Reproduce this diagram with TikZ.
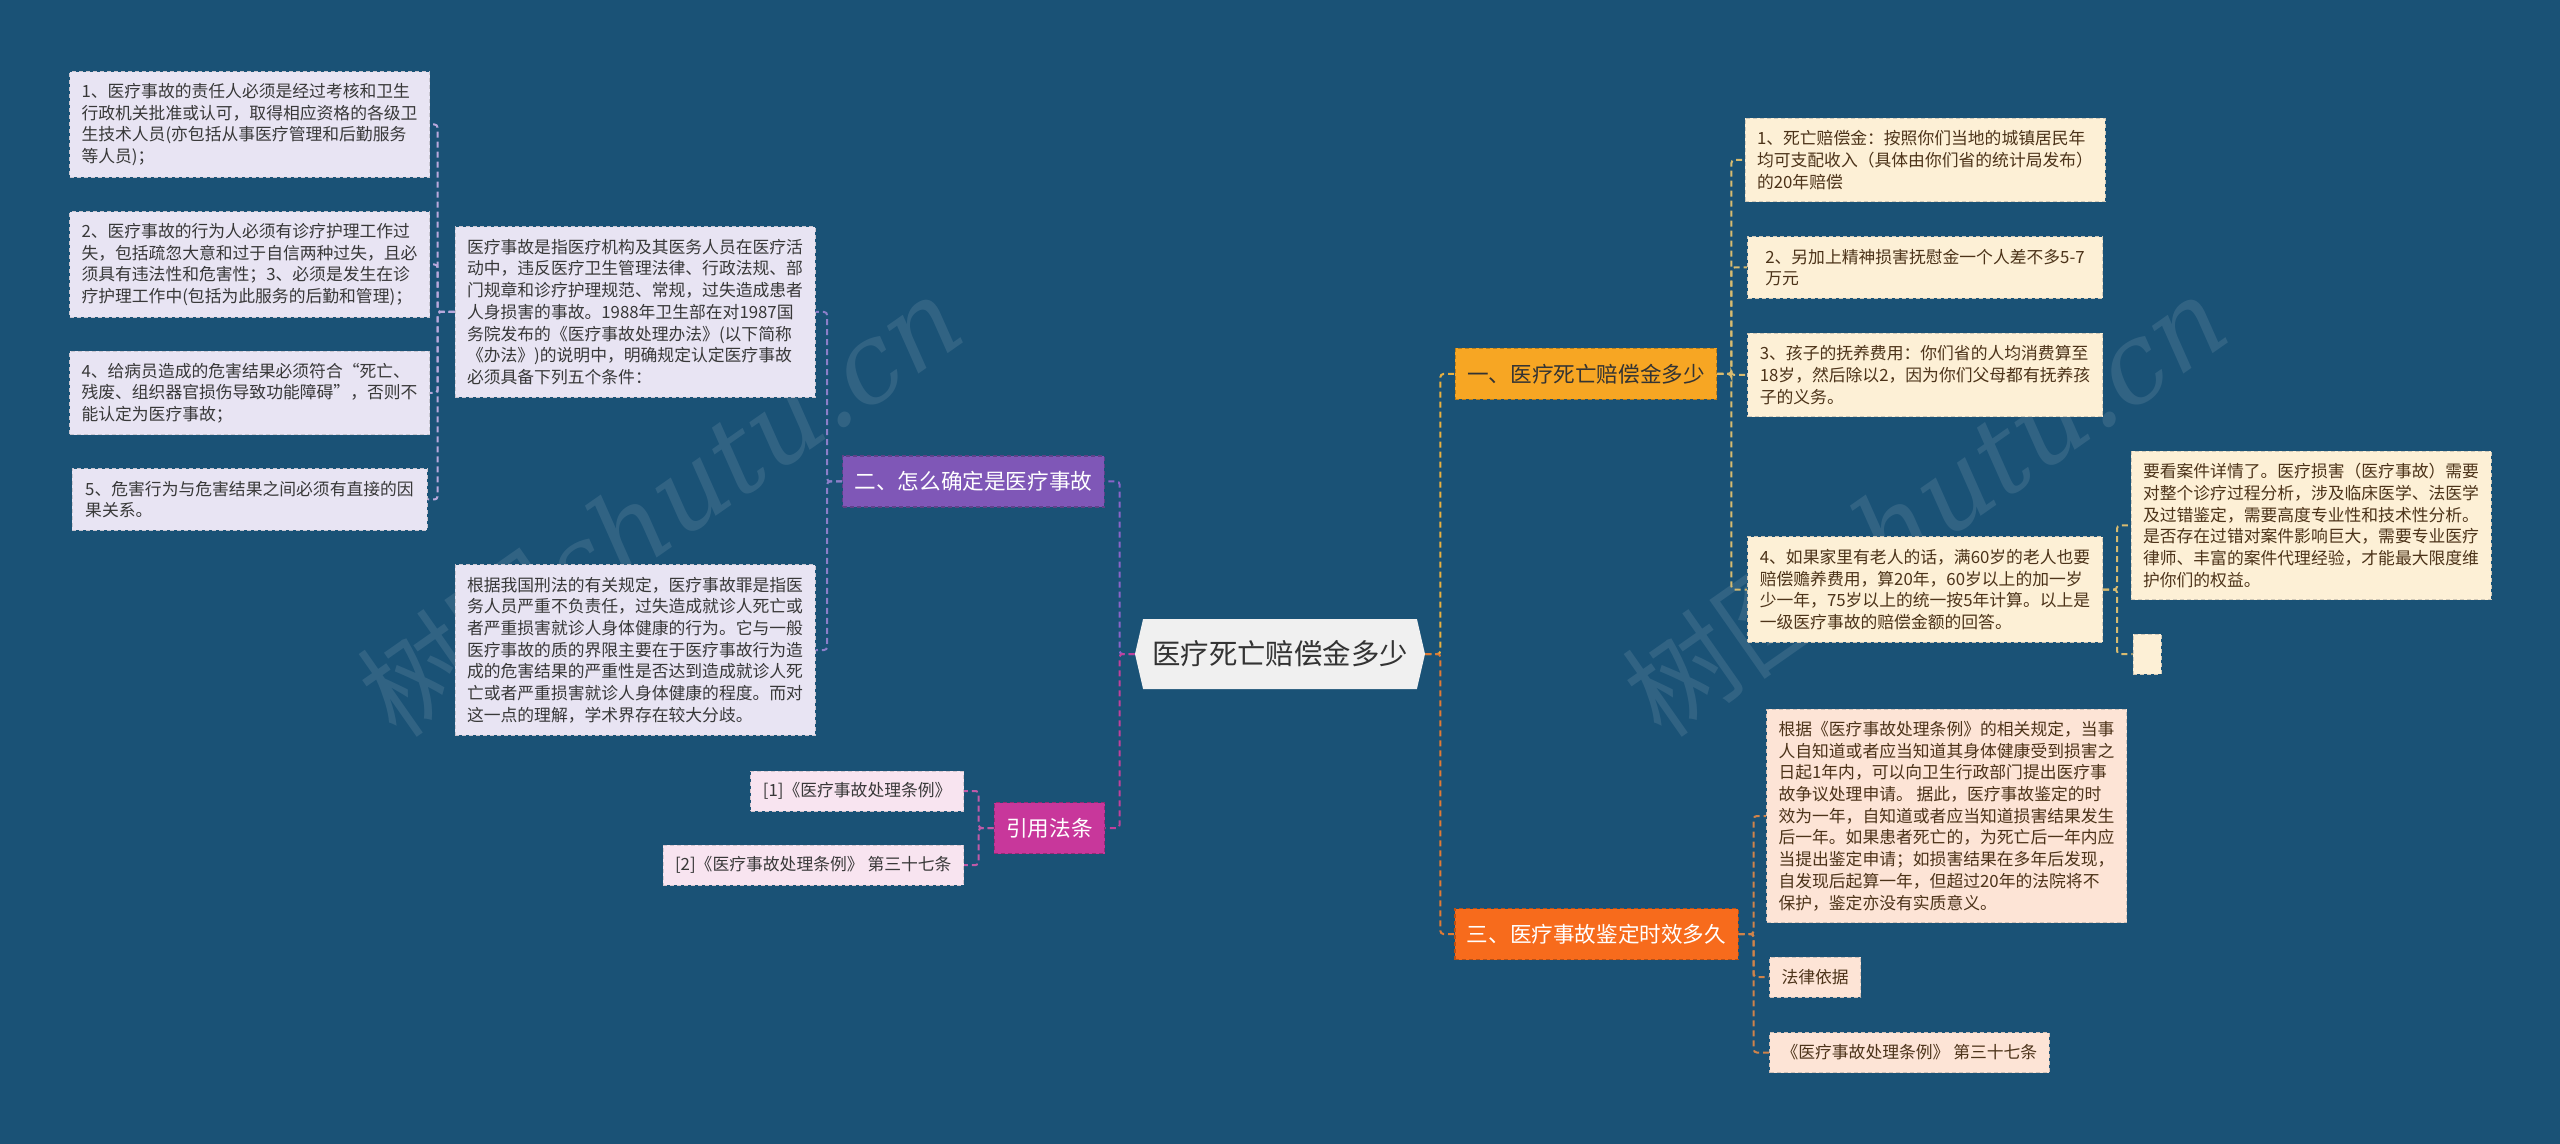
\documentclass[tikz,border=0pt]{standalone}
\usepackage{fontspec}
\setmainfont{Noto Sans CJK SC}
\newfontfamily\wmfont{DejaVu Serif}
\usetikzlibrary{shapes.symbols}

\definecolor{bgblue}{HTML}{1A5276}
\definecolor{rootfill}{HTML}{F0F0F0}
\definecolor{purplefill}{HTML}{7F57B7}
\definecolor{magentafill}{HTML}{C8379B}
\definecolor{orangefill}{HTML}{F7A623}
\definecolor{redfill}{HTML}{F76B1C}
\definecolor{lavfill}{HTML}{E8E4F3}
\definecolor{pinkfill}{HTML}{F8E4F0}
\definecolor{creamfill}{HTML}{FDF0D6}
\definecolor{peachfill}{HTML}{FDE4D6}
\definecolor{lnpurple}{HTML}{8A63C8}
\definecolor{lnmagenta}{HTML}{C0409C}
\definecolor{lnviolet}{HTML}{8C7FC9}
\definecolor{lnlav}{HTML}{B9A9DC}
\definecolor{lnpink}{HTML}{C05AA8}
\definecolor{lnyellow}{HTML}{E8B040}
\definecolor{lnorange}{HTML}{E07A35}
\definecolor{lntan}{HTML}{D8BB70}
\definecolor{lnrust}{HTML}{D0834A}

\tikzset{
  leaf/.style={rectangle, draw, dash pattern=on 2pt off 1.5pt, line width=0.5pt,
    inner xsep=6pt, inner ysep=0pt, align=left,
    font=\fontsize{8.4}{10.85}\selectfont},
  wide/.style={minimum width=177.5pt},
  nrows/.style={minimum height={(#1-1)*10.85pt+20pt}},
  lavbox/.style={leaf, fill=lavfill, draw=lavfill!70!gray, text=black!78},
  pinkbox/.style={leaf, fill=pinkfill, draw=pinkfill!70!gray, text=black!78},
  creambox/.style={leaf, fill=creamfill, draw=creamfill!65!gray, text=brown!40!black},
  peachbox/.style={leaf, fill=peachfill, draw=peachfill!65!gray, text=brown!40!black},
  branch/.style={rectangle, dash pattern=on 2pt off 1.5pt, line width=0.6pt,
    inner xsep=6pt, minimum height=25.5pt, font=\fontsize{10.8}{13}\selectfont},
  link/.style={dash pattern=on 3pt off 2pt, line width=1pt, rounded corners=1.5pt}
}

\begin{document}
\begin{tikzpicture}[x=0.5pt,y=-0.5pt]
\useasboundingbox (0,0) rectangle (2560,1144);
\fill[bgblue] (0,0) rectangle (2560,1144);

\node[rotate=35, opacity=0.1, text=white, font=\fontsize{55}{55}\selectfont] (wm1) at (660,505) {树图{\wmfont\itshape shutu.cn}};
\node[rotate=35, opacity=0.1, text=white, font=\fontsize{55}{55}\selectfont] (wm2) at (1925,505) {树图{\wmfont\itshape shutu.cn}};

\node[signal, signal to=west and east, signal pointer angle=154, fill=rootfill,
  minimum width=145pt, minimum height=35pt, text=black!80,
  font=\fontsize{14.2}{16}\selectfont] (root) at (1280,654) {医疗死亡赔偿金多少};

\node[branch, fill=purplefill, draw=purplefill!75!black, text=white] (b2) at (973.5,481.5) {二、怎么确定是医疗事故};
\node[branch, fill=magentafill, draw=magentafill!75!black, text=white] (b4) at (1049.5,828) {引用法条};
\node[branch, fill=orangefill, draw=orangefill!75!black, text=black!80] (b1) at (1586,374) {一、医疗死亡赔偿金多少};
\node[branch, fill=redfill, draw=redfill!75!black, text=white] (b3) at (1596.5,934) {三、医疗事故鉴定时效多久};

\node[lavbox, wide, nrows=7] (defn) at (635,312) {医疗事故是指医疗机构及其医务人员在医疗活\\动中，违反医疗卫生管理法律、行政法规、部\\门规章和诊疗护理规范、常规，过失造成患者\\人身损害的事故。1988年卫生部在对1987国\\务院发布的《医疗事故处理办法》(以下简称\\《办法》)的说明中，明确规定认定医疗事故\\必须具备下列五个条件：};
\node[lavbox, wide, nrows=7] (crim) at (635,650) {根据我国刑法的有关规定，医疗事故罪是指医\\务人员严重不负责任，过失造成就诊人死亡或\\者严重损害就诊人身体健康的行为。它与一般\\医疗事故的质的界限主要在于医疗事故行为造\\成的危害结果的严重性是否达到造成就诊人死\\亡或者严重损害就诊人身体健康的程度。而对\\这一点的理解，学术界存在较大分歧。};

\node[lavbox, wide, nrows=4] (k1) at (249.5,124.5) {1、医疗事故的责任人必须是经过考核和卫生\\行政机关批准或认可，取得相应资格的各级卫\\生技术人员(亦包括从事医疗管理和后勤服务\\等人员)；};
\node[lavbox, wide, nrows=4] (k2) at (249.5,264.5) {2、医疗事故的行为人必须有诊疗护理工作过\\失，包括疏忽大意和过于自信两种过失，且必\\须具有违法性和危害性；3、必须是发生在诊\\疗护理工作中(包括为此服务的后勤和管理)；};
\node[lavbox, wide, nrows=3] (k3) at (249.5,393) {4、给病员造成的危害结果必须符合“死亡、\\残废、组织器官损伤导致功能障碍”，否则不\\能认定为医疗事故；};
\node[lavbox, wide, nrows=2] (k4) at (249.5,499.5) {5、危害行为与危害结果之间必须有直接的因\\果关系。};

\node[pinkbox, nrows=1, anchor=east] (ref1) at (964,791) {[1]《医疗事故处理条例》};
\node[pinkbox, nrows=1, anchor=east] (ref2) at (964,865) {[2]《医疗事故处理条例》 第三十七条};

\node[creambox, wide, nrows=3] (pay1) at (1925,160) {1、死亡赔偿金：按照你们当地的城镇居民年\\均可支配收入（具体由你们省的统计局发布）\\的20年赔偿};
\node[creambox, wide, nrows=2] (pay2) at (1925,267.5) {2、另加上精神损害抚慰金一个人差不多5-7\\万元};
\node[creambox, wide, nrows=3] (pay3) at (1925,375) {3、孩子的抚养费用：你们省的人均消费算至\\18岁，然后除以2，因为你们父母都有抚养孩\\子的义务。};
\node[creambox, wide, nrows=4] (pay4) at (1925,589.5) {4、如果家里有老人的话，满60岁的老人也要\\赔偿赡养费用，算20年，60岁以上的加一岁\\少一年，75岁以上的统一按5年计算。以上是\\一级医疗事故的赔偿金额的回答。};
\node[creambox, wide, nrows=6] (pay4a) at (2311,525.5) {要看案件详情了。医疗损害（医疗事故）需要\\对整个诊疗过程分析，涉及临床医学、法医学\\及过错鉴定，需要高度专业性和技术性分析。\\是否存在过错对案件影响巨大，需要专业医疗\\律师、丰富的案件代理经验，才能最大限度维\\护你们的权益。};
\node[creambox, nrows=1, minimum width=14pt] (pay4b) at (2147,654) {};

\node[peachbox, wide, nrows=9] (lim1) at (1946.5,816) {根据《医疗事故处理条例》的相关规定，当事\\人自知道或者应当知道其身体健康受到损害之\\日起1年内，可以向卫生行政部门提出医疗事\\故争议处理申请。 据此，医疗事故鉴定的时\\效为一年，自知道或者应当知道损害结果发生\\后一年。如果患者死亡的，为死亡后一年内应\\当提出鉴定申请；如损害结果在多年后发现，\\自发现后起算一年，但超过20年的法院将不\\保护，鉴定亦没有实质意义。};
\node[peachbox, nrows=1, anchor=west] (lim2) at (1769,977) {法律依据};
\node[peachbox, nrows=1, anchor=west] (lim3) at (1769,1052.5) {《医疗事故处理条例》 第三十七条};

\draw[link, lnpurple] (root.west) -- ++(-15,0) |- (b2.east);
\draw[link, lnmagenta] (root.west) -- ++(-15,0) |- (b4.east);
\foreach \n in {defn,crim}
  \draw[link, lnviolet] (b2.west) -- ++(-15,0) |- (\n.east);
\foreach \n in {k1,k2,k3,k4}
  \draw[link, lnlav] (defn.west) -- ++(-17,0) |- (\n.east);
\foreach \n in {ref1,ref2}
  \draw[link, lnpink] (b4.west) -- ++(-15,0) |- (\n.east);

\draw[link, lnyellow] (root.east) -- ++(15,0) |- (b1.west);
\draw[link, lnorange] (root.east) -- ++(15,0) |- (b3.west);
\foreach \n in {pay1,pay2,pay3,pay4}
  \draw[link, lntan] (b1.east) -- ++(14,0) |- (\n.west);
\foreach \n in {pay4a,pay4b}
  \draw[link, lntan] (pay4.east) -- ++(14,0) |- (\n.west);
\foreach \n in {lim1,lim2,lim3}
  \draw[link, lnrust] (b3.east) -- ++(15,0) |- (\n.west);
\end{tikzpicture}
\end{document}
